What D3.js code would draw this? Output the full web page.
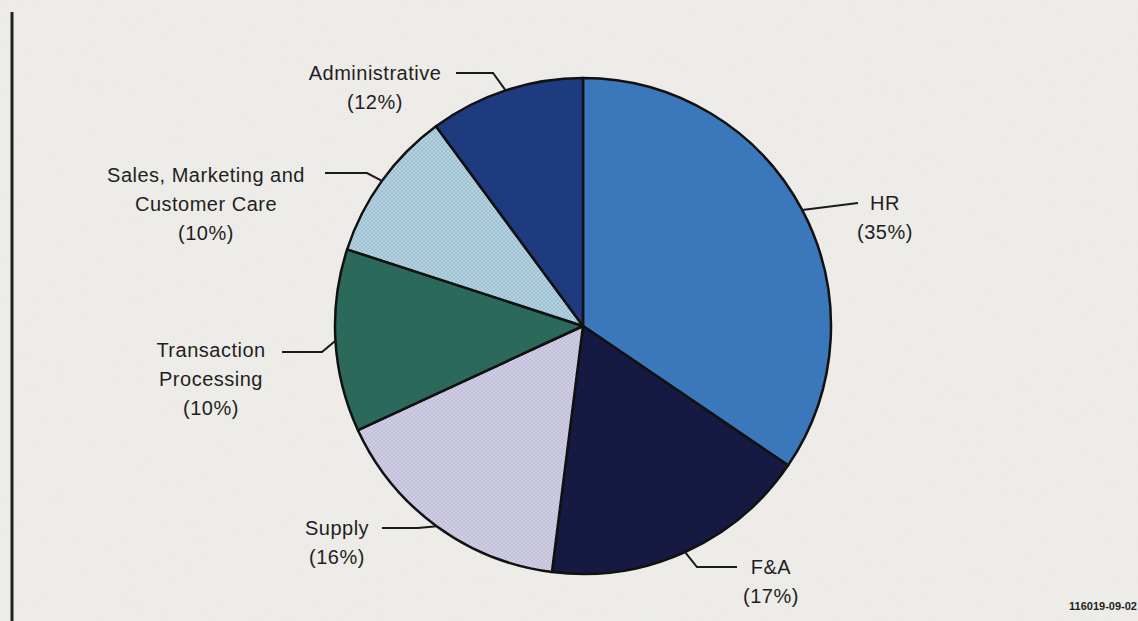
<!DOCTYPE html>
<html>
<head>
<meta charset="utf-8">
<script src="https://cdn.jsdelivr.net/npm/d3@7"></script>
<style>
  html, body { margin: 0; padding: 0; background: #eeede9; }
  svg { display: block; }
  text { font-family: "Liberation Sans", Arial, sans-serif; fill: #1f1f1f; }
</style>
</head>
<body>
<svg id="chart" width="1138" height="621"></svg>
<script>
// ---- data ----
const categories = ["HR", "F&A", "Supply", "Transaction Processing", "Sales, Marketing and Customer Care", "Administrative"];
// slice shares as drawn in the picture
const sliceValues = [34.5, 17.5, 16.1, 11.9, 9.9, 10.1];
// percentages as printed on the labels
const labelPercents = ["35%", "17%", "16%", "10%", "10%", "12%"];
const labelLines = [
  ["HR"],
  ["F&A"],
  ["Supply"],
  ["Transaction", "Processing"],
  ["Sales, Marketing and", "Customer Care"],
  ["Administrative"]
];
const footnote = "116019-09-02";

// ---- styles / layout ----
const fills = ["#3a77bb", "#161a42", "url(#dotsSupply)", "#2b6a5a", "url(#dotsSales)", "#1f3b80"];
const cx = 583, cy = 326, R = 248;
const layout = [
  {elbow: null, end: [858, 203], tx: 885, ty: 203},
  {elbow: [697, 567], end: [737, 567], tx: 771, ty: 567},
  {elbow: [418, 528], end: [382, 528], tx: 337, ty: 528},
  {elbow: [322, 352], end: [282, 352], tx: 211, ty: 350},
  {elbow: [367, 173], end: [325, 173], tx: 206, ty: 175},
  {elbow: [493, 73], end: [456, 73], tx: 375, ty: 73}
];
const lineH = 29;

const svg = d3.select("#chart");
const defs = svg.append("defs");

function dotPattern(id, base, dot) {
  const p = defs.append("pattern").attr("id", id).attr("patternUnits", "userSpaceOnUse")
    .attr("width", 4).attr("height", 4);
  p.append("rect").attr("width", 4).attr("height", 4).attr("fill", base);
  p.append("circle").attr("cx", 1).attr("cy", 1).attr("r", 0.8).attr("fill", dot);
  p.append("circle").attr("cx", 3).attr("cy", 3).attr("r", 0.8).attr("fill", dot);
}
dotPattern("dotsSupply", "#c0bed9", "#e6e5f1");
dotPattern("dotsSales", "#9cc1d2", "#d6e8ef");

// paper texture
const f = defs.append("filter").attr("id", "paper");
f.append("feTurbulence").attr("type", "fractalNoise").attr("baseFrequency", 0.6).attr("numOctaves", 2).attr("seed", 3);
f.append("feColorMatrix").attr("type", "matrix")
  .attr("values", "0 0 0 0 0.5  0 0 0 0 0.5  0 0 0 0 0.48  0 0 0 0.06 0");
svg.append("rect").attr("width", 1138).attr("height", 621).attr("fill", "#eeede9");
svg.append("rect").attr("width", 1138).attr("height", 621).attr("filter", "url(#paper)");

// left vertical rule
svg.append("line").attr("x1", 12).attr("x2", 12).attr("y1", 12).attr("y2", 621)
  .attr("stroke", "#222").attr("stroke-width", 3);

const pie = d3.pie().sort(null).value(d => d);
const arcs = pie(sliceValues);
const arc = d3.arc().innerRadius(0).outerRadius(R);

const g = svg.append("g").attr("transform", `translate(${cx},${cy})`);
g.selectAll("path.slice").data(arcs).enter().append("path")
  .attr("class", "slice")
  .attr("d", arc)
  .attr("fill", (d, i) => fills[i])
  .attr("stroke", "#111")
  .attr("stroke-width", 2.5)
  .attr("stroke-linejoin", "round");

// leader lines and labels
arcs.forEach((a, i) => {
  const mid = (a.startAngle + a.endAngle) / 2;
  const ax = cx + R * Math.sin(mid);
  const ay = cy - R * Math.cos(mid);
  const L = layout[i];
  const pts = [[ax, ay]];
  if (L.elbow) pts.push(L.elbow);
  pts.push(L.end);
  svg.append("path")
    .attr("d", d3.line()(pts))
    .attr("fill", "none").attr("stroke", "#1a1a1a").attr("stroke-width", 2);

  const lines = labelLines[i].concat(["(" + labelPercents[i] + ")"]);
  const t = svg.append("text").attr("text-anchor", "middle").attr("font-size", 20)
    .attr("letter-spacing", "0.5px");
  lines.forEach((s, k) => {
    t.append("tspan").attr("x", L.tx).attr("y", L.ty + k * lineH).attr("dy", "0.35em").text(s);
  });
});

svg.append("text").attr("x", 1137).attr("y", 606).attr("text-anchor", "end")
  .attr("font-size", 11).attr("font-weight", "bold").attr("dy", "0.35em").text(footnote);
</script>
</body>
</html>
